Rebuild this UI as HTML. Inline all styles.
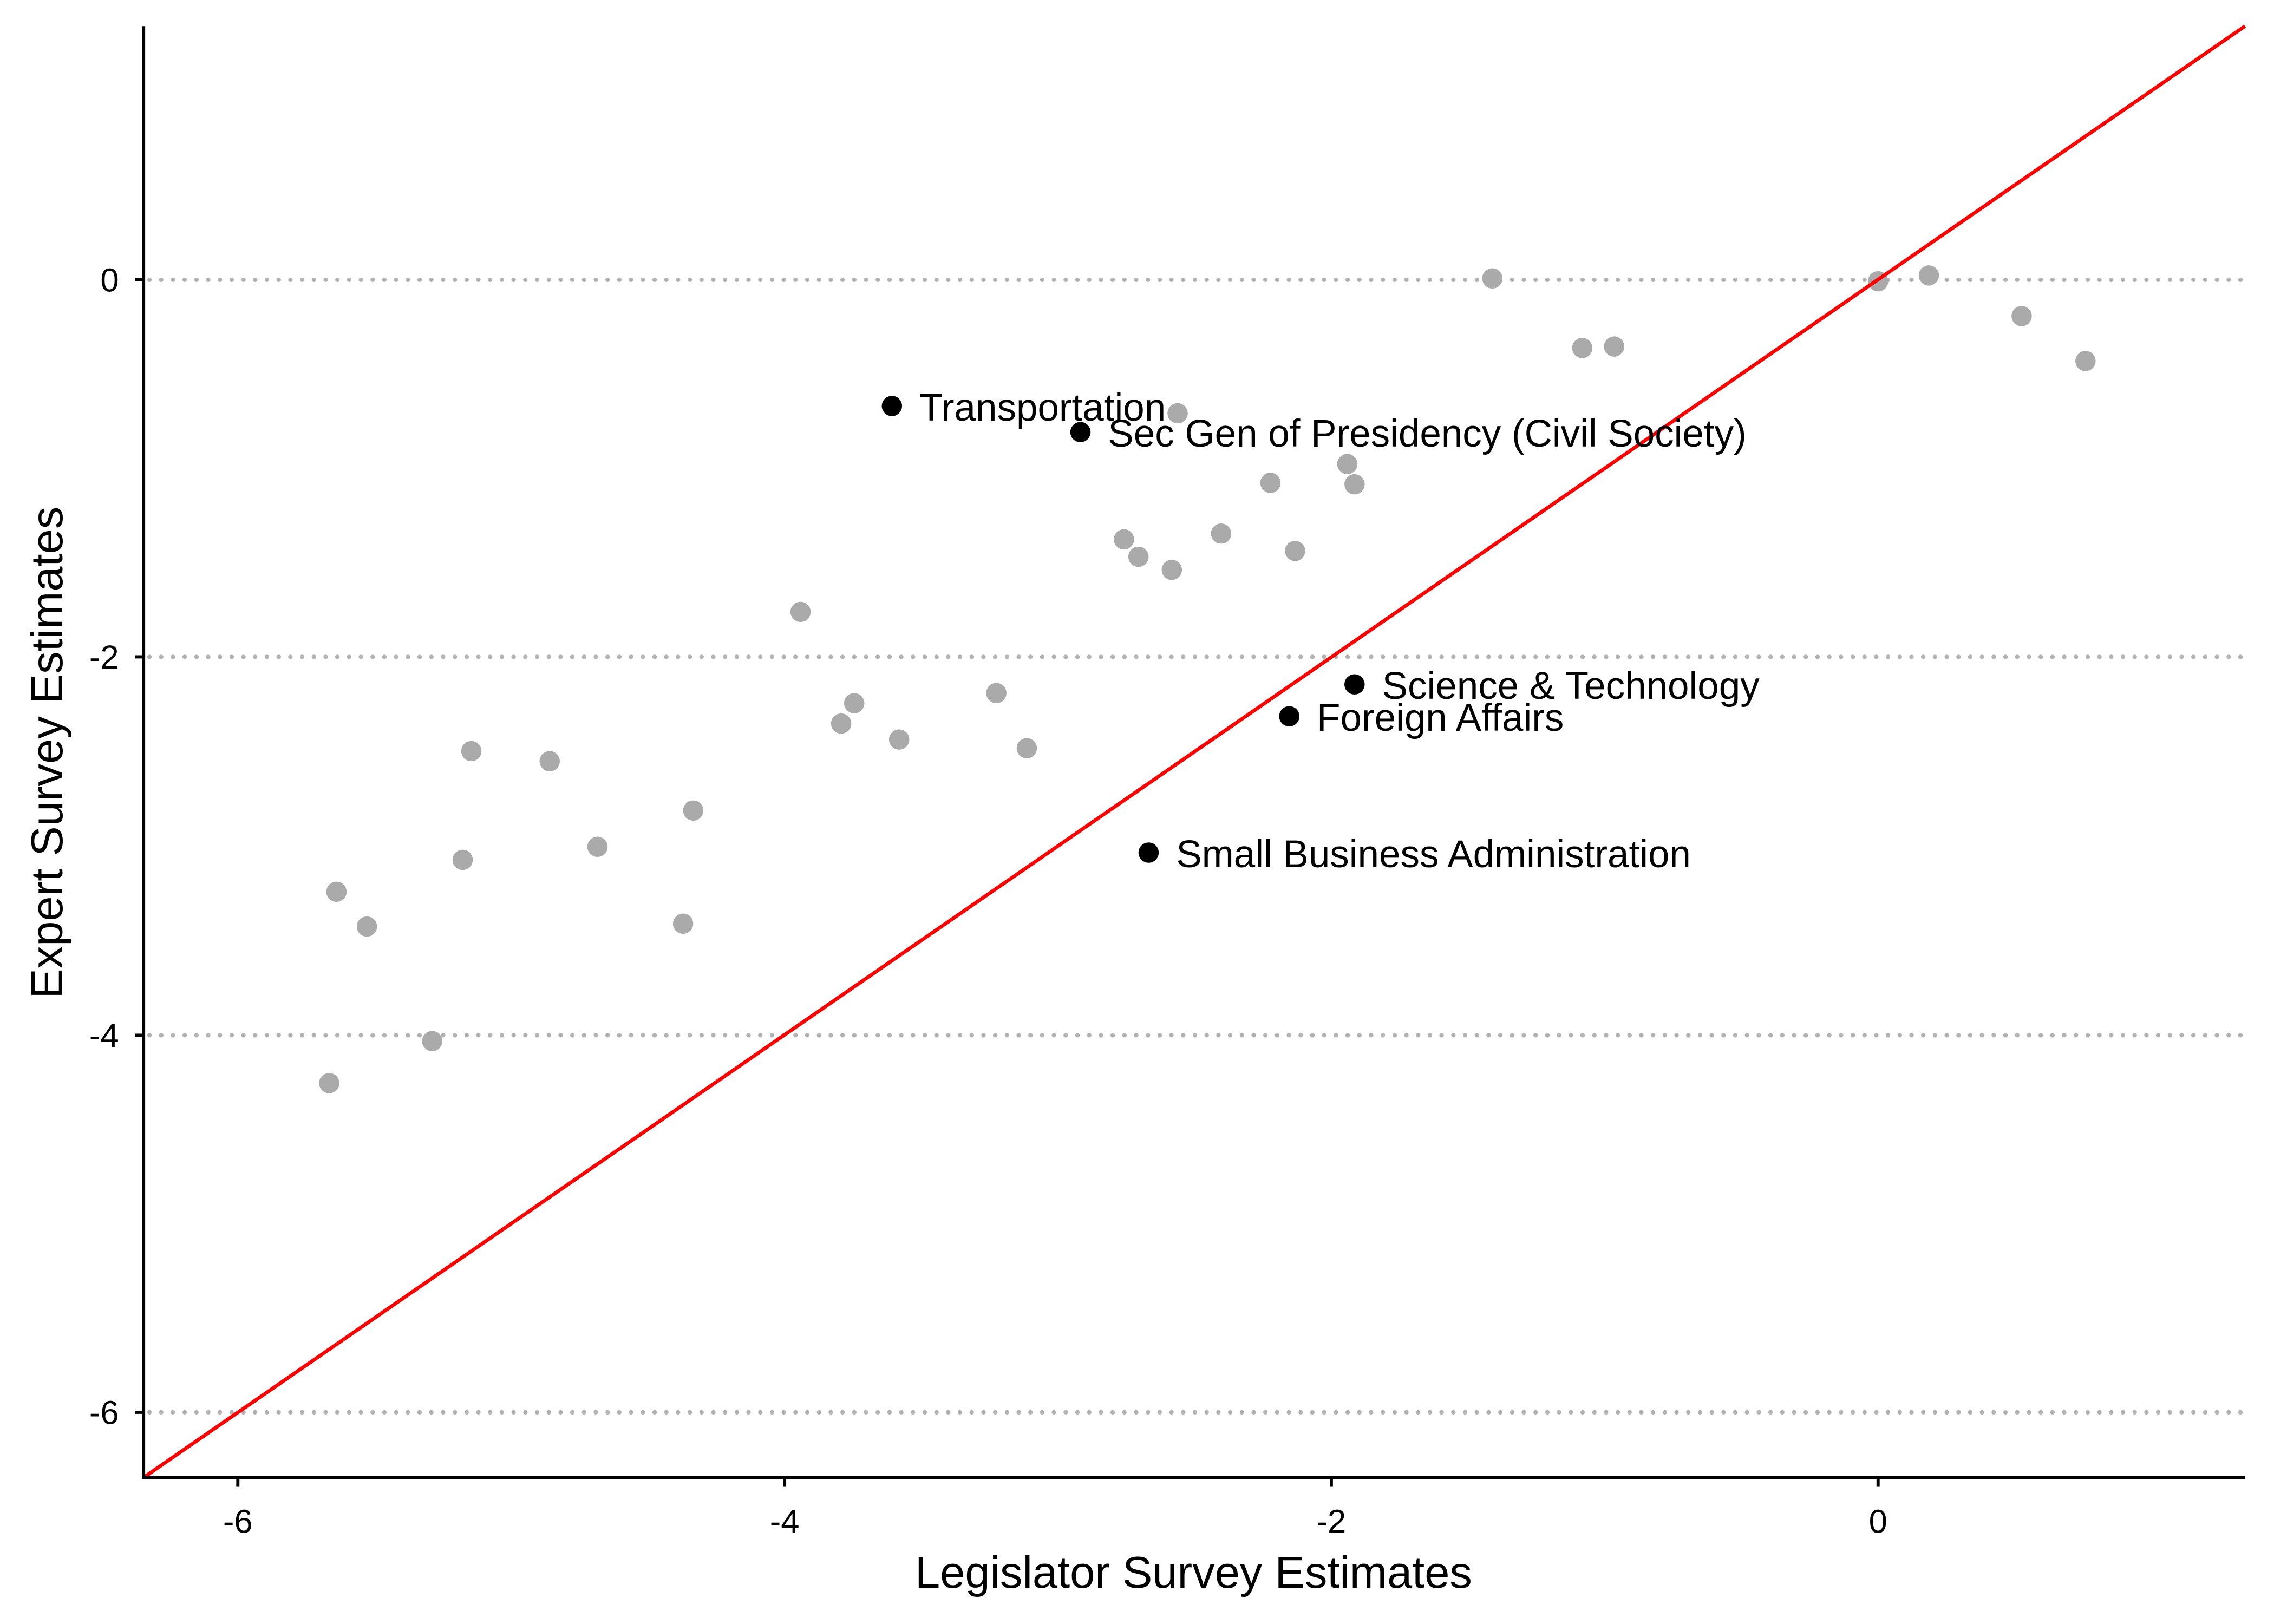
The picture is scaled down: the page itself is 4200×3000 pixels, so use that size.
<!DOCTYPE html>
<html><head><style>html,body{margin:0;padding:0;background:#fff}svg{display:block}</style></head>
<body>
<svg width="4200" height="3000" viewBox="0 0 1568 1120" xmlns="http://www.w3.org/2000/svg" font-family="Liberation Sans, Arial, sans-serif">
<rect width="1568" height="1120" fill="#fff"/>
<g stroke="#b3b3b3" stroke-width="3" stroke-dasharray="0.1,8" stroke-linecap="round">
<line x1="103" y1="193" x2="1548" y2="193"/>
<line x1="103" y1="453" x2="1548" y2="453"/>
<line x1="103" y1="714" x2="1548" y2="714"/>
<line x1="103" y1="974" x2="1548" y2="974"/>
</g>
<g fill="#aaaaaa">
<circle cx="1029" cy="192" r="7"/><circle cx="1295" cy="194" r="7"/><circle cx="1330" cy="190" r="7"/><circle cx="1394" cy="218" r="7"/><circle cx="1438" cy="249" r="7"/><circle cx="1091" cy="240" r="7"/><circle cx="1113" cy="239" r="7"/><circle cx="812" cy="285" r="7"/><circle cx="876" cy="333" r="7"/><circle cx="929" cy="320" r="7"/><circle cx="934" cy="334" r="7"/><circle cx="775" cy="372" r="7"/><circle cx="785" cy="384" r="7"/><circle cx="808" cy="393" r="7"/><circle cx="842" cy="368" r="7"/><circle cx="893" cy="380" r="7"/><circle cx="552" cy="422" r="7"/><circle cx="580" cy="499" r="7"/><circle cx="589" cy="485" r="7"/><circle cx="620" cy="510" r="7"/><circle cx="687" cy="478" r="7"/><circle cx="708" cy="516" r="7"/><circle cx="325" cy="518" r="7"/><circle cx="379" cy="525" r="7"/><circle cx="412" cy="584" r="7"/><circle cx="478" cy="559" r="7"/><circle cx="319" cy="593" r="7"/><circle cx="232" cy="615" r="7"/><circle cx="253" cy="639" r="7"/><circle cx="471" cy="637" r="7"/><circle cx="298" cy="718" r="7"/><circle cx="227" cy="747" r="7"/>
</g>
<line x1="99" y1="1019" x2="1548" y2="18" stroke="#ff0000" stroke-width="2.5"/>
<g fill="#000">
<circle cx="615" cy="280" r="7"/><circle cx="745" cy="298" r="7"/><circle cx="934" cy="472" r="7"/><circle cx="889" cy="494" r="7"/><circle cx="792" cy="588" r="7"/>
</g>
<g font-size="26.5" fill="#000">
<text x="634" y="290">Transportation</text>
<text x="764" y="308">Sec Gen of Presidency (Civil Society)</text>
<text x="953" y="482">Science &amp; Technology</text>
<text x="908" y="504">Foreign Affairs</text>
<text x="811" y="598">Small Business Administration</text>
</g>
<g stroke="#000" stroke-width="2.2">
<line x1="99" y1="18" x2="99" y2="1020"/>
<line x1="98" y1="1019" x2="1548" y2="1019"/>
<line x1="93" y1="193" x2="99" y2="193"/><line x1="93" y1="453" x2="99" y2="453"/><line x1="93" y1="714" x2="99" y2="714"/><line x1="93" y1="974" x2="99" y2="974"/>
<line x1="164" y1="1019" x2="164" y2="1025"/><line x1="541" y1="1019" x2="541" y2="1025"/><line x1="918" y1="1019" x2="918" y2="1025"/><line x1="1295" y1="1019" x2="1295" y2="1025"/>
</g>
<g font-size="23" fill="#000" text-anchor="end">
<text x="82" y="201">0</text><text x="82" y="461">-2</text><text x="82" y="722">-4</text><text x="82" y="982">-6</text>
</g>
<g font-size="23" fill="#000" text-anchor="middle">
<text x="164" y="1057">-6</text><text x="541" y="1057">-4</text><text x="918" y="1057">-2</text><text x="1295" y="1057">0</text>
<text x="823" y="1095" font-size="31">Legislator Survey Estimates</text>
<text transform="translate(43,519) rotate(-90)" font-size="31">Expert Survey Estimates</text>
</g>
</svg>
</body></html>
